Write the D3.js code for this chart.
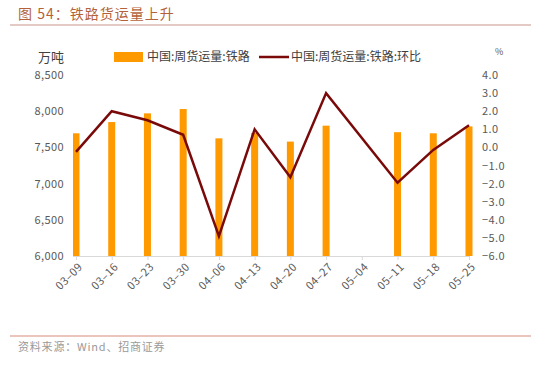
<!DOCTYPE html>
<meta charset="utf-8">
<style>
body { margin: 0; background: #fff; font-family: 'Noto Sans CJK SC', 'Noto Sans', sans-serif; }
.axis text { fill: #595959; font-family: 'Noto Sans CJK SC', sans-serif; }
</style>
<svg width="550" height="386"></svg>
<script src="https://d3js.org/d3.v7.min.js"></script>
<script>
// data
var weeks = ["03-09", "03-16", "03-23", "03-30", "04-06", "04-13", "04-20", "04-27", "05-04", "05-11", "05-18", "05-25"];
var freight = [7695, 7850, 7970, 8030, 7625, 7700, 7580, 7800, null, 7710, 7695, 7790];
var mom = [-0.25, 2.0, 1.5, 0.7, -4.9, 1.0, -1.65, 3.0, null, -1.95, -0.14, 1.22];
var leftTicks = [6000, 6500, 7000, 7500, 8000, 8500];
var rightTicks = [-6, -5, -4, -3, -2, -1, 0, 1, 2, 3, 4];

var svg = d3.select("svg");
var top0 = 75, bottom0 = 256, left0 = 73, right0 = 470;

var x = d3.scalePoint().domain(weeks).range([left0 + 3, right0 - 1]);
var yL = d3.scaleLinear().domain([6000, 8500]).range([bottom0, top0]);
var yR = d3.scaleLinear().domain([-6, 4]).range([bottom0, top0]);

// title and rules
svg.append("text").attr("x", 18).attr("y", 19)
  .attr("fill", "#b4623a").style("font-size", "14px").style("letter-spacing", "1px")
  .text("图 54：铁路货运量上升");
svg.append("line").attr("x1", 10).attr("x2", 531).attr("y1", 25).attr("y2", 25)
  .attr("stroke", "#c9958a").attr("stroke-width", 1);
svg.append("line").attr("x1", 10).attr("x2", 531).attr("y1", 336).attr("y2", 336)
  .attr("stroke", "#d7897a").attr("stroke-width", 1);
svg.append("text").attr("x", 18).attr("y", 351)
  .attr("fill", "#9a9a9a").style("font-size", "11px").style("letter-spacing", "0.8px")
  .text("资料来源：Wind、招商证券");

// bars
var barW = 7;
svg.append("g")
  .selectAll("rect")
  .data(weeks.map(function(w, i) { return {w: w, v: freight[i]}; }).filter(function(d) { return d.v != null; }))
  .enter().append("rect")
    .attr("x", function(d) { return Math.max(left0, x(d.w) - barW / 2); })
    .attr("width", function(d) { return x(d.w) - barW / 2 < left0 ? x(d.w) + barW / 2 - left0 : barW; })
    .attr("y", function(d) { return yL(d.v); })
    .attr("height", function(d) { return bottom0 - yL(d.v); })
    .attr("fill", "#ff9900");

// x axis
var xa = svg.append("g").attr("class", "axis")
  .attr("transform", "translate(0," + bottom0 + ")")
  .call(d3.axisBottom(x).tickSize(4).tickSizeOuter(0)
    .tickFormat(function(d) { return d.replace("-", "–"); }));
xa.select(".domain").attr("stroke", "#d9d9d9").attr("d", "M" + left0 + ",0.5H" + right0);
xa.selectAll(".tick line").attr("stroke", "#d9d9d9");
xa.selectAll(".tick text")
  .style("font-size", "11px")
  .style("letter-spacing", "0.4px")
  .attr("fill", "#7f7f7f")
  .attr("text-anchor", "end")
  .attr("x", 0).attr("y", 0).attr("dy", "0.35em")
  .attr("transform", "translate(4,9) rotate(-45)");

// left axis
var la = svg.append("g").attr("class", "axis")
  .attr("transform", "translate(" + (left0 - 6) + ",0)")
  .call(d3.axisLeft(yL).tickValues(leftTicks).tickSize(0).tickFormat(d3.format(",")));
la.select(".domain").remove();
la.selectAll("text").style("font-size", "11px").style("letter-spacing", "0.4px");

// right axis
var ra = svg.append("g").attr("class", "axis")
  .attr("transform", "translate(" + (right0 + 9) + ",0)")
  .call(d3.axisRight(yR).tickValues(rightTicks).tickSize(0).tickFormat(d3.format(".1f")));
ra.select(".domain").remove();
ra.selectAll("text").style("font-size", "11px").style("letter-spacing", "0.4px");

// line (gap point skipped, neighbours joined)
var pts = weeks.map(function(w, i) { return {w: w, v: mom[i]}; }).filter(function(d) { return d.v != null; });
svg.append("path")
  .datum(pts)
  .attr("fill", "none")
  .attr("stroke", "#7a0a0a")
  .attr("stroke-width", 2.5)
  .attr("d", d3.line().x(function(d) { return x(d.w); }).y(function(d) { return yR(d.v); }));

// units
svg.append("text").attr("x", 38).attr("y", 62).attr("fill", "#404040").style("font-size", "13px").text("万吨");
svg.append("text").attr("x", 495).attr("y", 55).attr("fill", "#595959").style("font-size", "9px").text("%");

// legend
svg.append("rect").attr("x", 114).attr("y", 52).attr("width", 29).attr("height", 10).attr("fill", "#ff9900");
svg.append("text").attr("x", 147).attr("y", 61).attr("fill", "#404040").style("font-size", "12px").text("中国:周货运量:铁路");
svg.append("line").attr("x1", 259).attr("x2", 289).attr("y1", 57).attr("y2", 57).attr("stroke", "#7a0a0a").attr("stroke-width", 2.5);
svg.append("text").attr("x", 291).attr("y", 61).attr("fill", "#404040").style("font-size", "12px").text("中国:周货运量:铁路:环比");
</script>
